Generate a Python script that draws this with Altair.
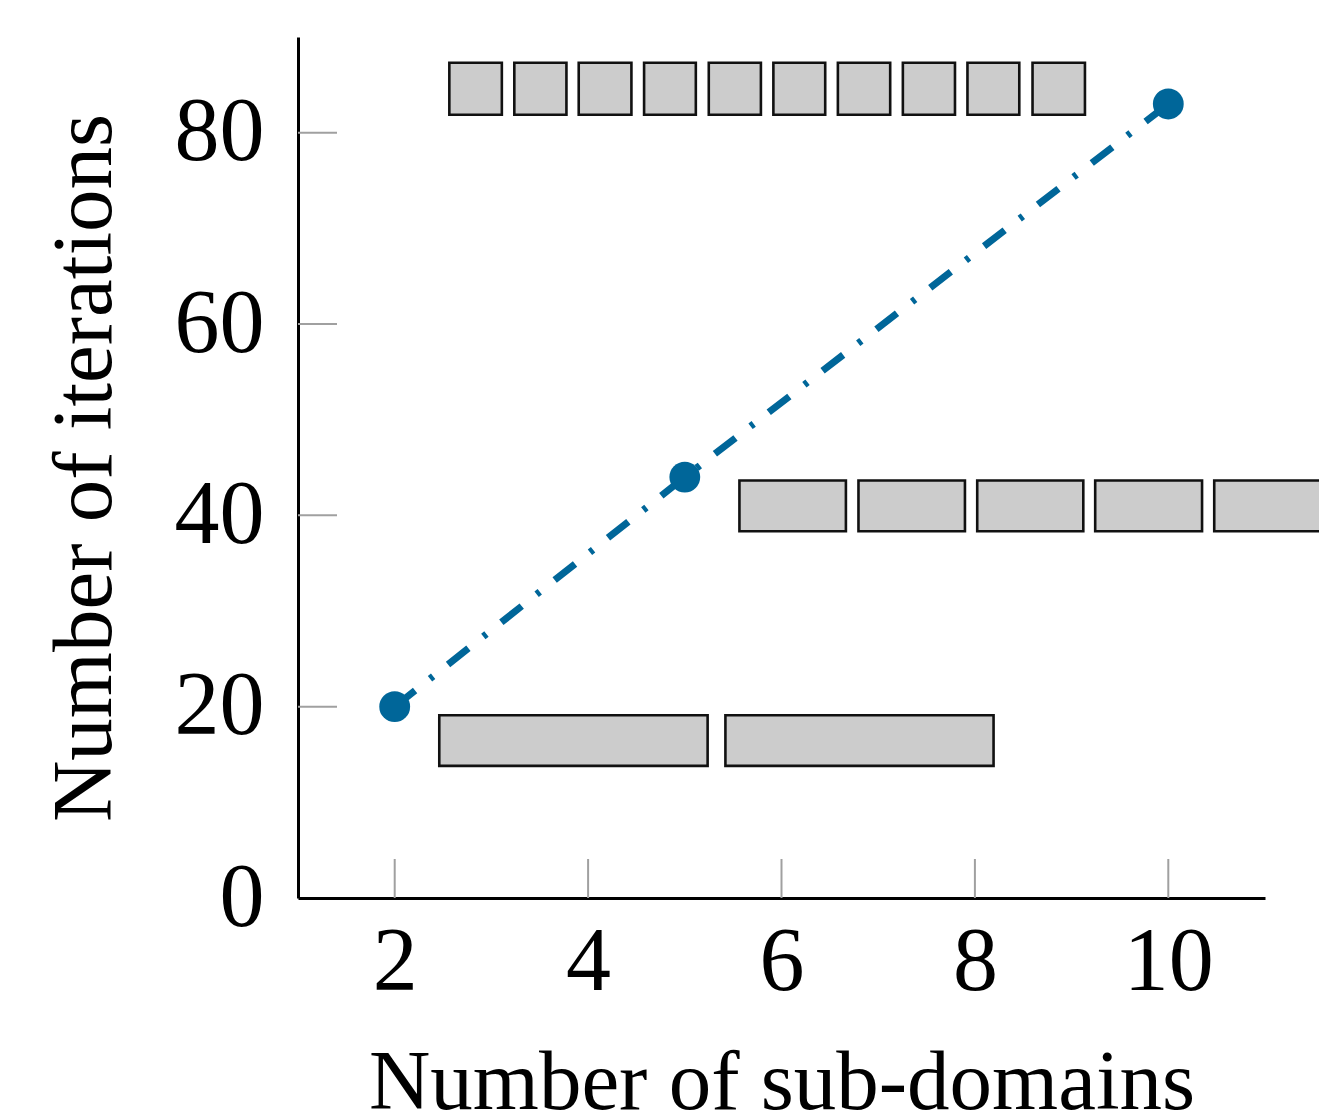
import altair as alt
import pandas as pd

# Data
x_sub = [2, 5, 10]
y_iter = [20, 44, 83]

x_ticks = [2, 4, 6, 8, 10]
y_ticks = [0, 20, 40, 60, 80]
y_tick_marks = [20, 40, 60, 80]

# Decomposition boxes (three rows), in data coordinates
box_x0 = [2.565, 3.237, 3.903, 4.579, 5.248, 5.916, 6.583, 7.255, 7.923, 8.596,
          5.565, 6.796, 8.024, 9.244, 10.475,
          2.461, 5.420]
box_x1 = [3.108, 3.776, 4.448, 5.114, 5.787, 6.452, 7.124, 7.794, 8.459, 9.138,
          6.666, 7.897, 9.121, 10.349, 11.580,
          5.236, 8.193]
box_y0 = [81.88, 81.88, 81.88, 81.88, 81.88, 81.88, 81.88, 81.88, 81.88, 81.88,
          38.34, 38.34, 38.34, 38.34, 38.34,
          13.81, 13.81]
box_y1 = [87.31, 87.31, 87.31, 87.31, 87.31, 87.31, 87.31, 87.31, 87.31, 87.31,
          43.64, 43.64, 43.64, 43.64, 43.64,
          19.10, 19.10]

pts = pd.DataFrame({"x": x_sub, "y": y_iter})
boxes = pd.DataFrame({"x0": box_x0, "x1": box_x1, "y0": box_y0, "y1": box_y1})
xt = pd.DataFrame({"v": x_ticks})
yt = pd.DataFrame({"v": y_tick_marks})

W, H = 967, 861
FONT = "Liberation Serif"
BLUE = "#006699"

xscale = alt.Scale(domain=[1, 11], nice=False, zero=False)
yscale = alt.Scale(domain=[0, 90], nice=False, zero=False)

xaxis = alt.Axis(title="Number of sub-domains", values=x_ticks, format="d",
                 labelPadding=20, titlePadding=34)
yaxis = alt.Axis(title="Number of iterations", values=y_ticks, format="d",
                 labelPadding=34, titlePadding=46)

xtick_layer = alt.Chart(xt).mark_rule(color="#a0a0a0", strokeWidth=2).encode(
    x=alt.X("v:Q", scale=xscale, axis=xaxis),
    y=alt.value(H),
    y2=alt.value(H - 39),
)
ytick_layer = alt.Chart(yt).mark_rule(color="#a0a0a0", strokeWidth=2).encode(
    y=alt.Y("v:Q", scale=yscale, axis=yaxis),
    x=alt.value(0),
    x2=alt.value(39),
)
box_layer = alt.Chart(boxes).mark_rect(
    fill="#cccccc", stroke="#111111", strokeWidth=2.6, clip=False
).encode(
    x=alt.X("x0:Q", scale=xscale, axis=xaxis),
    x2="x1:Q",
    y=alt.Y("y0:Q", scale=yscale, axis=yaxis),
    y2="y1:Q",
)
line_layer = alt.Chart(pts).mark_line(
    color=BLUE, strokeWidth=7, strokeDash=[26, 19, 4, 19]
).encode(
    x=alt.X("x:Q", scale=xscale, axis=xaxis),
    y=alt.Y("y:Q", scale=yscale, axis=yaxis),
)
point_layer = alt.Chart(pts).mark_circle(color=BLUE, size=950, opacity=1).encode(
    x=alt.X("x:Q", scale=xscale, axis=xaxis),
    y=alt.Y("y:Q", scale=yscale, axis=yaxis),
)

chart = alt.layer(xtick_layer, ytick_layer, box_layer, line_layer, point_layer).properties(
    width=W,
    height=H,
    padding={"left": 290, "top": 29, "right": 54, "bottom": 225},
    autosize=alt.AutoSizeParams(type="none"),
).configure_view(
    stroke=None
).configure_axis(
    grid=False,
    ticks=False,
    tickSize=0,
    domainColor="#000000",
    domainWidth=3,
    labelFont=FONT,
    labelFontSize=90,
    labelColor="#000000",
    labelOverlap=False,
    titleFont=FONT,
    titleFontSize=85,
    titleFontWeight="normal",
    titleColor="#000000",
    zindex=1,
)

chart.save("out.html", embed_options={"renderer": "svg", "actions": False})
